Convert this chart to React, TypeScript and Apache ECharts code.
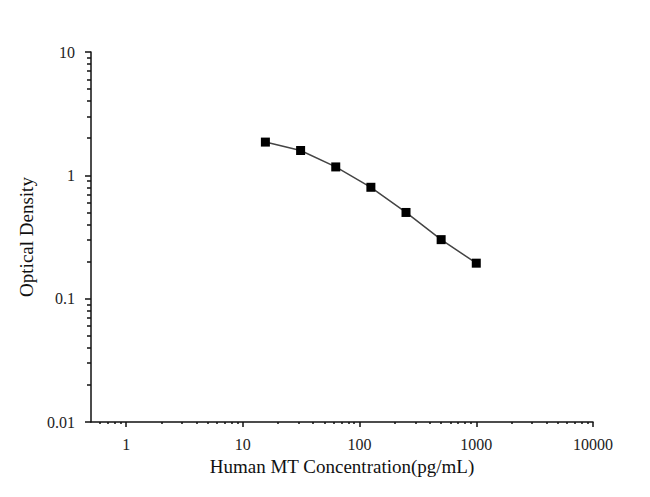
import React, { useEffect, useRef } from "react";
import * as echarts from "echarts";

const concentrations = [15.6, 31.25, 62.5, 125, 250, 500, 1000];
const opticalDensity = [1.86, 1.59, 1.17, 0.8, 0.5, 0.301, 0.194];
const xMajorTicks = [1, 10, 100, 1000, 10000];
const yMajorTicks = [0.01, 0.1, 1, 10];
const xTitle = "Human MT Concentration(pg/mL)";
const yTitle = "Optical Density";

function minorValues(lo: number, hi: number): number[] {
  const out: number[] = [];
  for (let d = lo; d < hi; d *= 10) {
    for (let m = 2; m <= 9; m++) {
      out.push(+(m * d).toPrecision(6));
    }
  }
  return out;
}

const xMinor = minorValues(0.1, 10000).filter((v) => v > 0.5 && v < 10000);
const yMinor = minorValues(0.01, 10);

export default function App() {
  const ref = useRef<HTMLDivElement>(null);
  useEffect(() => {
    if (!ref.current) return;
    const chart = echarts.init(ref.current, undefined, { renderer: "svg" });
    const font = "'Liberation Serif', 'Times New Roman', serif";
    const labelStyle = { color: "#222", fontFamily: font, fontSize: 16 };
    chart.setOption({
      animation: false,
      backgroundColor: "#fff",
      grid: { left: 91, right: 57, top: 52, bottom: 75 },
      xAxis: [
        {
          type: "log",
          min: 0.5,
          max: 10000,
          position: "bottom",
          name: xTitle,
          nameLocation: "middle",
          nameGap: 34,
          nameTextStyle: { color: "#111", fontFamily: font, fontSize: 19 },
          axisLine: { show: true, lineStyle: { color: "#111", width: 1.5 } },
          axisTick: {
            show: true,
            length: 5,
            customValues: xMajorTicks,
            lineStyle: { color: "#111", width: 1.5 },
          },
          axisLabel: {
            ...labelStyle,
            margin: 14,
            customValues: xMajorTicks,
            formatter: (v: number) => String(v),
          },
          splitLine: { show: false },
        },
        {
          type: "log",
          min: 0.5,
          max: 10000,
          position: "bottom",
          axisLine: { show: false },
          axisTick: {
            show: true,
            length: 2,
            customValues: xMinor,
            lineStyle: { color: "#111", width: 1.5 },
          },
          axisLabel: { show: false },
          splitLine: { show: false },
        },
      ],
      yAxis: [
        {
          type: "log",
          min: 0.01,
          max: 10,
          position: "left",
          name: yTitle,
          nameLocation: "middle",
          nameGap: 48,
          nameRotate: 90,
          nameTextStyle: { color: "#111", fontFamily: font, fontSize: 19 },
          axisLine: { show: true, lineStyle: { color: "#111", width: 1.5 } },
          axisTick: {
            show: true,
            length: 6,
            customValues: yMajorTicks,
            lineStyle: { color: "#111", width: 1.5 },
          },
          axisLabel: {
            ...labelStyle,
            margin: 16,
            customValues: yMajorTicks,
            formatter: (v: number) => String(v),
          },
          splitLine: { show: false },
        },
        {
          type: "log",
          min: 0.01,
          max: 10,
          position: "left",
          axisLine: { show: false },
          axisTick: {
            show: true,
            length: 4,
            customValues: yMinor,
            lineStyle: { color: "#111", width: 1.5 },
          },
          axisLabel: { show: false },
          splitLine: { show: false },
        },
      ],
      series: [
        {
          type: "line",
          xAxisIndex: 0,
          yAxisIndex: 0,
          data: concentrations.map((c, i) => [c, opticalDensity[i]]),
          symbol: "rect",
          symbolSize: 9,
          showAllSymbol: true,
          lineStyle: { color: "#444", width: 1.5 },
          itemStyle: { color: "#000" },
        },
      ],
    });
    return () => chart.dispose();
  }, []);
  return (
    <div
      ref={ref}
      style={{ position: "fixed", left: 0, top: 0, width: 650, height: 497 }}
    />
  );
}
